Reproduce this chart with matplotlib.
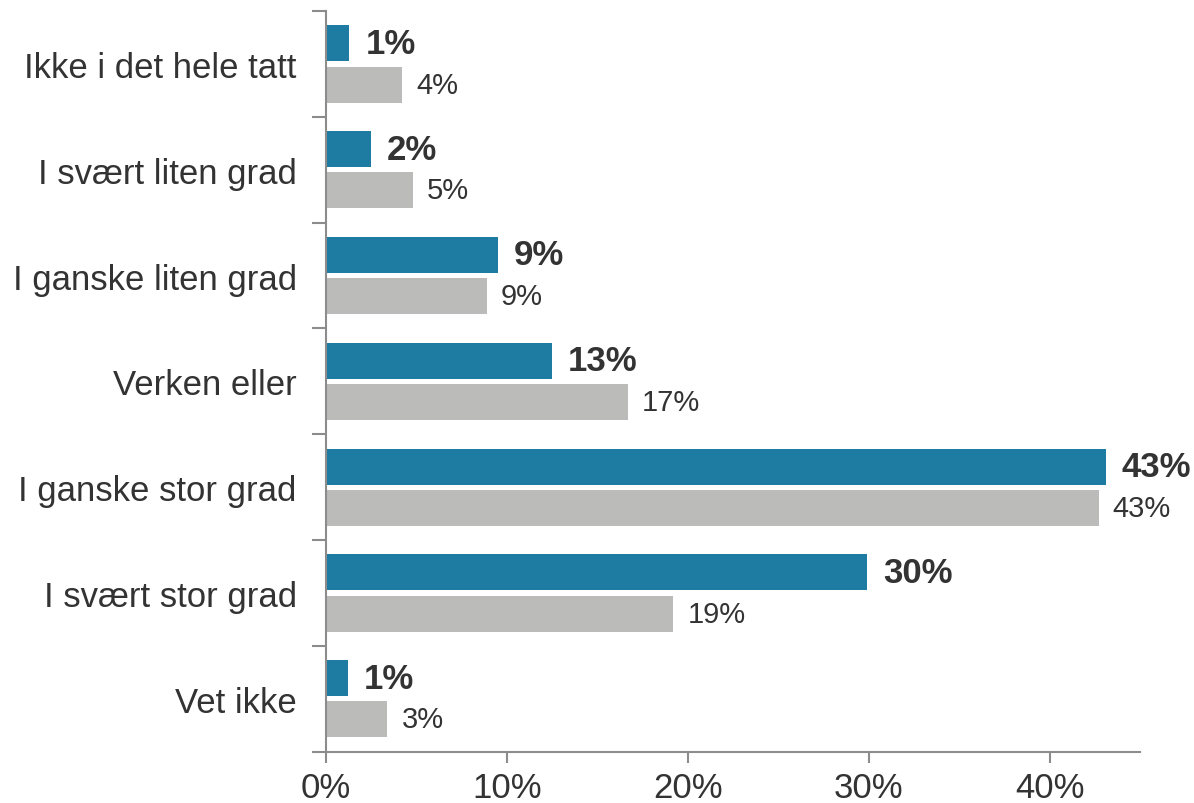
import matplotlib
matplotlib.use("Agg")
import matplotlib.pyplot as plt
from matplotlib.ticker import FuncFormatter, FixedLocator
import numpy as np

categories = ["Ikke i det hele tatt", "I svært liten grad", "I ganske liten grad",
              "Verken eller", "I ganske stor grad", "I svært stor grad", "Vet ikke"]
series_a = [1.3, 2.5, 9.5, 12.5, 43.1, 29.9, 1.2]
series_b = [4.2, 4.8, 8.9, 16.7, 42.7, 19.2, 3.4]
labels_a = ["1%", "2%", "9%", "13%", "43%", "30%", "1%"]
labels_b = ["4%", "5%", "9%", "17%", "43%", "19%", "3%"]
xticks = [0, 10, 20, 30, 40]

plt.rcParams['font.family'] = ['Liberation Sans', 'DejaVu Sans']

fig = plt.figure(figsize=(11.94, 8.04), dpi=100)
ax = fig.add_axes([0.273, 0.0638, 0.955 - 0.273, 0.985 - 0.0638])

blue = "#1e7ba2"
gray = "#bbbcb9"
txt = "#333333"
axc = "#8c8c8c"

y = np.arange(len(categories))
h = 0.34
off = 0.195
ax.barh(y - off, series_a, height=h, color=blue, edgecolor="none")
ax.barh(y + off, series_b, height=h, color=gray, edgecolor="none")

for yi, v, lab in zip(y, series_a, labels_a):
    ax.annotate(lab, (v, yi - off), xytext=(16, 0), textcoords="offset pixels",
                ha="left", va="center", fontsize=25, fontweight="bold", color=txt)
for yi, v, lab in zip(y, series_b, labels_b):
    ax.annotate(lab, (v, yi + off), xytext=(14, 0), textcoords="offset pixels",
                ha="left", va="center", fontsize=21, color=txt)

ax.set_xlim(0, 45)
ax.set_ylim(len(categories) - 0.5, -0.5)

ax.xaxis.set_major_locator(FixedLocator(xticks))
ax.xaxis.set_major_formatter(FuncFormatter(lambda v, p: f"{int(v)}%"))
ax.tick_params(axis='x', labelsize=25, labelcolor=txt, color=axc, length=8,
               width=1.5, direction='out', pad=6)

ax.set_yticks(y)
ax.set_yticklabels(categories)
ax.yaxis.set_minor_locator(FixedLocator(np.arange(len(categories) + 1) - 0.5))
ax.tick_params(axis='y', which='major', length=0, labelsize=25, labelcolor=txt, pad=21)
ax.tick_params(axis='y', which='minor', length=10, width=1.5, color=axc, direction='out')

for s in ["top", "right"]:
    ax.spines[s].set_visible(False)
for s in ["left", "bottom"]:
    ax.spines[s].set_color(axc)
    ax.spines[s].set_linewidth(1.5)

fig.savefig("out.png", dpi=100)
